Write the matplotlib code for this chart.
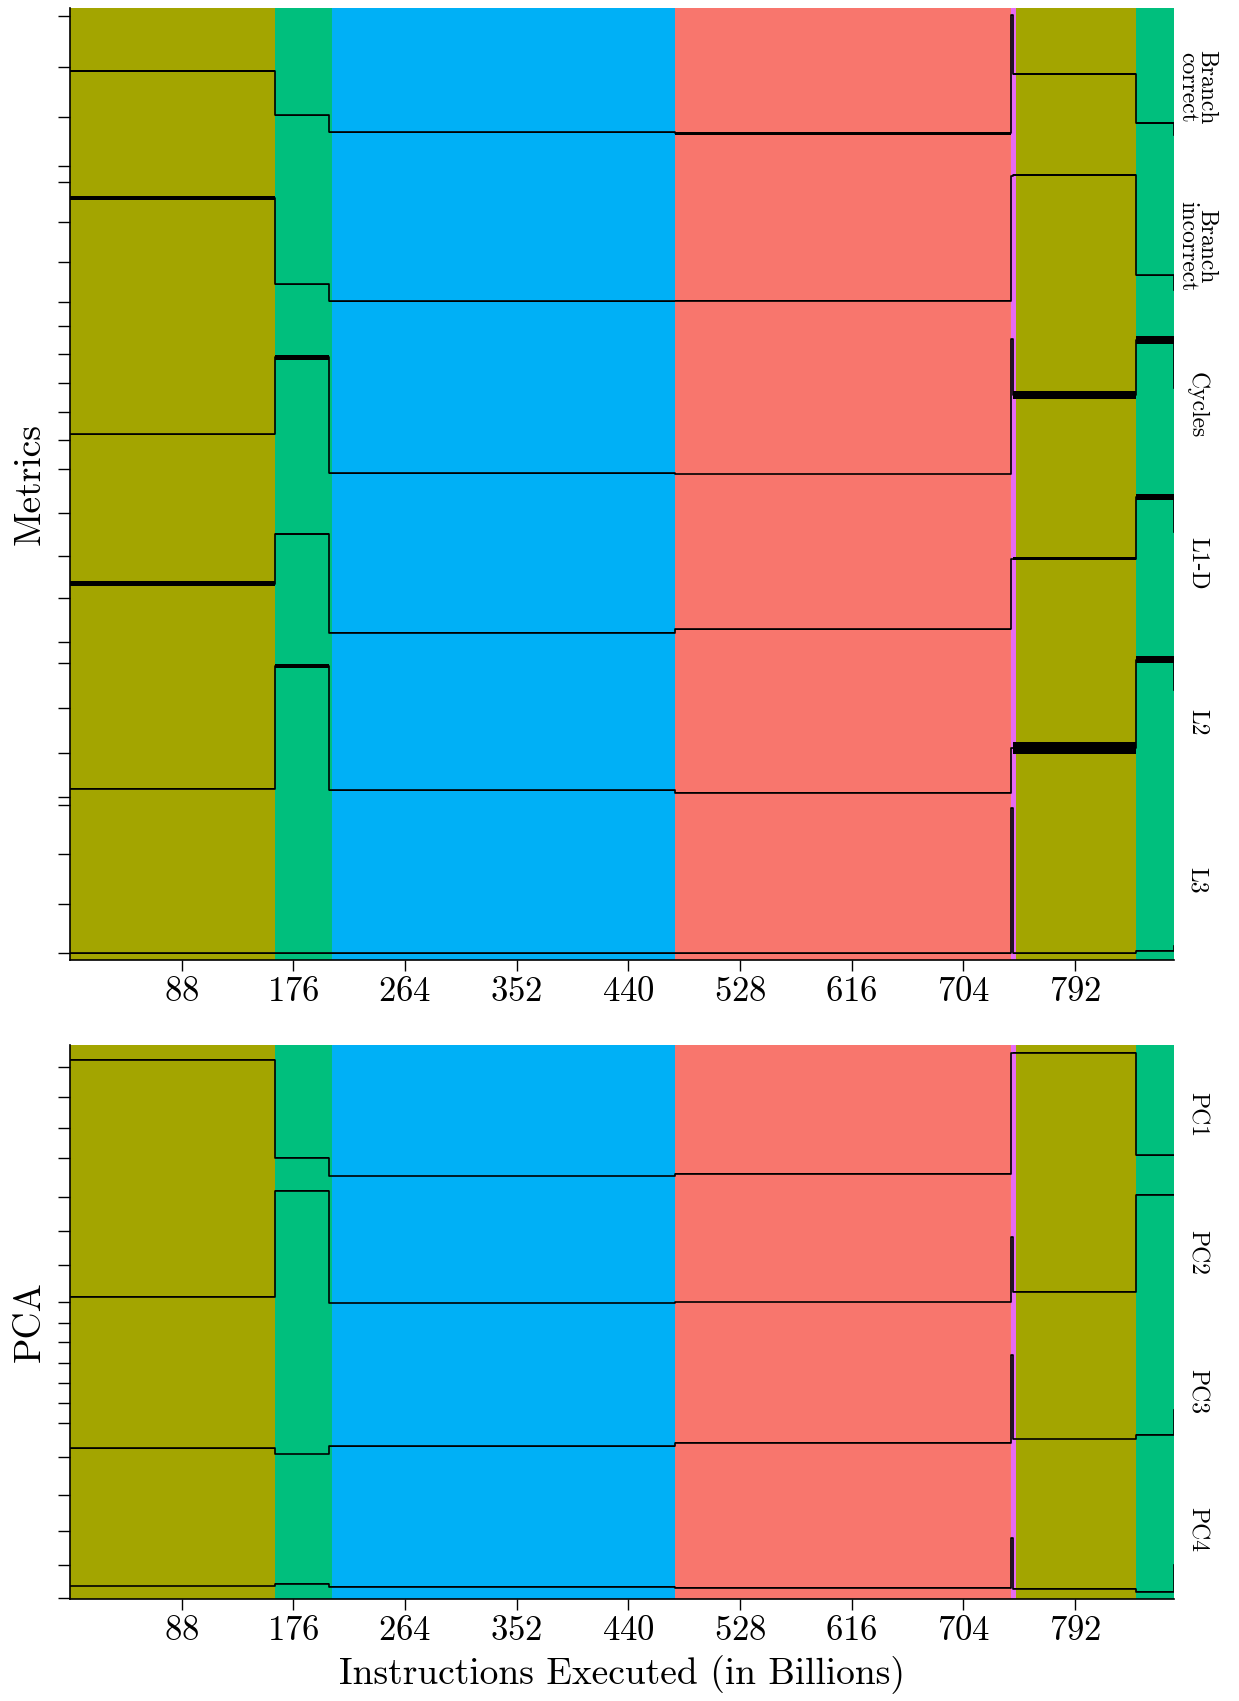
import numpy as np
import matplotlib.pyplot as plt

plt.rcParams['font.family'] = 'cmr10'
plt.rcParams['axes.formatter.use_mathtext'] = True
plt.rcParams['mathtext.fontset'] = 'cm'

# phases of the run (billions of instructions) and their colours
phase_edges = [0, 161.3, 206.2, 476.4, 741.2, 745.9, 839.8, 870]
phase_colors = ['#A3A500', '#00BF7D', '#00B0F6', '#F8766D', '#E76BF3', '#A3A500', '#00BF7D']

# x where every trace switches level (last entry = end of run)
step_x = [0, 161.3, 204.5, 476.4, 741.3, 742.8, 839.8, 870]
x_ticks = [88, 176, 264, 352, 440, 528, 616, 704, 792]

# levels per step, normalised to 0..1 inside each trace band
metric_names = ['Branch\ncorrect', 'Branch\nincorrect', 'Cycles', 'L1-D', 'L2', 'L3']
branch_correct = [0.605, 0.324, 0.217, 0.210, 0.956, 0.584, 0.277, 0.200]
branch_incorrect = [0.800, 0.258, 0.153, 0.155, 0.940, 0.947, 0.315, 0.223]
cycles = [0.315, 0.798, 0.069, 0.063, 0.917, 0.561, 0.908, 0.605]
l1d = [0.372, 0.686, 0.064, 0.084, 0.529, 0.529, 0.918, 0.700]
l2 = [0.079, 0.853, 0.071, 0.054, 0.334, 0.334, 0.892, 0.700]
l3 = [0.042, 0.042, 0.042, 0.042, 0.958, 0.042, 0.059, 0.088]

# visible noise band of each step (same units)
branch_correct_spread = [0.012, 0.006, 0.006, 0.015, 0, 0.012, 0.01, 0]
branch_incorrect_spread = [0.025, 0.006, 0.006, 0.006, 0, 0.01, 0.01, 0]
cycles_spread = [0.006, 0.028, 0.006, 0.006, 0, 0.05, 0.05, 0]
l1d_spread = [0.035, 0.015, 0.006, 0.01, 0, 0.02, 0.035, 0]
l2_spread = [0.006, 0.02, 0.006, 0.006, 0, 0.075, 0.045, 0]
l3_spread = [0.004, 0.004, 0.004, 0.004, 0, 0.004, 0.004, 0]

pca_names = ['PC1', 'PC2', 'PC3', 'PC4']
pc1 = [0.892, 0.186, 0.054, 0.069, 0.944, 0.944, 0.202, 0.202]
pc2 = [0.183, 0.946, 0.137, 0.144, 0.614, 0.217, 0.920, 0.920]
pc3 = [0.087, 0.047, 0.103, 0.129, 0.762, 0.155, 0.186, 0.364]
pc4 = [0.094, 0.110, 0.089, 0.082, 0.440, 0.074, 0.053, 0.246]
pc_spread = [0.006, 0.006, 0.006, 0.006, 0, 0.006, 0.006, 0]

# y ticks (in band units, 0 = bottom of the panel)
metric_yticks = [5.949, 5.630, 5.315, 5.004, 4.905, 4.653, 4.399, 4.145, 3.998, 3.817,
                 3.637, 3.456, 3.275, 3.094, 2.819, 2.546, 2.280, 2.006, 1.874, 1.588,
                 1.306, 1.025, 0.977, 0.666, 0.353, 0.046]
pca_yticks = [3.843, 3.622, 3.401, 3.182, 2.905, 2.657, 2.412, 2.147, 1.991, 1.853,
              1.706, 1.562, 1.413, 1.269, 1.023, 0.751, 0.491, 0.245, 0.005]


def draw_panel(ax, names, traces, spreads, yticks, ylabel):
    n = len(traces)
    for i in range(len(phase_colors)):
        ax.axvspan(phase_edges[i], phase_edges[i + 1], color=phase_colors[i], lw=0)

    for k, (vals, spr) in enumerate(zip(traces, spreads)):
        off = n - 1 - k
        y = np.array(vals) + off
        s = np.array(spr)
        ax.fill_between(step_x, y - s / 2, y + s / 2, step='post', color='black', lw=0)
        ax.plot(step_x, y, drawstyle='steps-post', color='black', lw=1.2)
        ax.text(1.021, (off + 0.5) / n, names[k], transform=ax.transAxes, rotation=270,
                ha='center', va='center', fontsize=17, linespacing=0.8)

    ax.set_xlim(0, 870)
    ax.set_ylim(0, n)
    ax.set_xticks(x_ticks)
    ax.set_yticks(yticks)
    ax.tick_params(axis='y', length=9, width=1, labelleft=False)
    ax.tick_params(axis='x', length=8, width=1, labelsize=25, pad=4)
    for side in ['top', 'right']:
        ax.spines[side].set_visible(False)
    ax.spines['left'].set_linewidth(1.2)
    ax.spines['bottom'].set_linewidth(1.2)
    ax.set_ylabel(ylabel, fontsize=27)


fig = plt.figure(figsize=(12.39, 17.01), dpi=100)
ax1 = fig.add_axes([0.0565, 0.4356, 0.891, 0.5597])
ax2 = fig.add_axes([0.0565, 0.0600, 0.891, 0.3257])

draw_panel(ax1, metric_names, [branch_correct, branch_incorrect, cycles, l1d, l2, l3],
           [branch_correct_spread, branch_incorrect_spread, cycles_spread, l1d_spread,
            l2_spread, l3_spread], metric_yticks, 'Metrics')
draw_panel(ax2, pca_names, [pc1, pc2, pc3, pc4], [pc_spread] * 4, pca_yticks, 'PCA')

ax1.yaxis.set_label_coords(-0.021, 0.5)
ax2.yaxis.set_label_coords(-0.021, 0.5)
ax2.set_xlabel('Instructions Executed (in Billions)', fontsize=27, labelpad=6)

fig.savefig('out.png', dpi=100)
